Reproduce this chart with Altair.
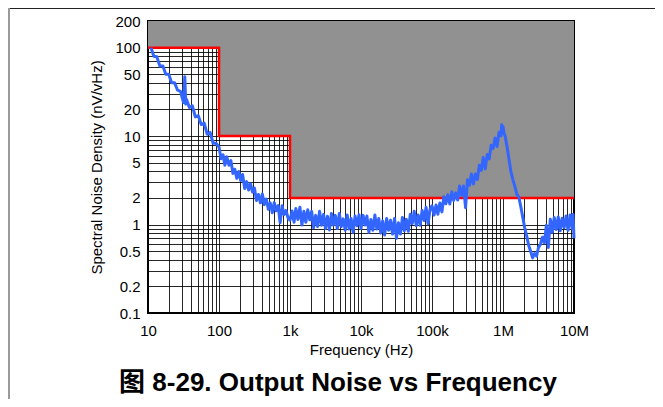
import altair as alt
import pandas as pd

# ---- measured noise trace (frequency in Hz, noise in nV/rtHz) ----
noise_freq_hz = [
    11, 12.1, 13.3, 14.7, 16.2, 17.8, 19.6, 21.5, 23.7, 26.1, 28.7, 31.6, 33, 34, 34.8, 38.3, 42.2, 46.4, 51.1, 56.2, 61.9, 68.1, 75, 82.5, 90.9,
    100, 107, 114, 121, 129, 138, 147, 157, 167, 178, 190, 202, 215, 230, 245, 261, 278, 297,
    316, 337, 359, 383, 408, 435, 464, 495, 527, 562, 600, 639, 681, 726, 774, 825, 880, 938,
    1000, 1070, 1140, 1210, 1290, 1380, 1470, 1570, 1670, 1780, 1900, 2020, 2150, 2300, 2450, 2610, 2780, 2970,
    3160, 3370, 3590, 3830, 4080, 4350, 4640, 4950, 5270, 5620, 6000, 6390, 6810, 7260, 7740, 8250, 8800, 9380,
    10000, 10700, 11400, 12100, 12900, 13800, 14700, 15700, 16700, 17800, 19000, 20200, 21500, 23000, 24500, 26100, 27800, 29700,
    31600, 33700, 35900, 38300, 40800, 43500, 46400, 49500, 52700, 56200, 60000, 63900, 68100, 72600, 77400, 82500, 88000, 93800,
    100000, 107000, 114000, 121000, 129000, 138000, 147000, 157000, 167000, 178000, 190000, 202000, 215000, 230000, 245000, 261000, 278000, 297000,
    316000, 337000, 359000, 383000, 408000, 435000, 464000, 495000, 527000, 562000, 600000, 639000, 681000, 726000, 774000, 825000, 880000, 938000, 960000, 980000,
    1000000, 1030000, 1070000, 1140000, 1210000, 1290000, 1380000, 1470000, 1570000, 1670000, 1780000, 1900000, 2020000, 2150000, 2300000, 2450000, 2610000, 2780000, 2970000,
    3160000, 3370000, 3590000, 3830000, 4080000, 4350000, 4640000, 4950000, 5270000, 5620000, 6000000, 6390000, 6810000, 7260000, 7740000, 8250000, 8800000, 9380000, 9700000, 10000000,
]
noise_nv = [
    100, 80, 79, 62, 62, 50, 50, 40, 40, 33, 32, 24, 47, 23, 26, 21, 22, 16.5, 17, 13.5, 14, 10.5, 11, 8.3, 8.3,
    7.5, 5.55, 6.15, 4.68, 5.82, 4.68, 5.29, 3.78, 4.22, 3.33, 3.98, 3.15, 3.68, 2.55, 3.06, 2.46, 2.89, 2.33,
    2.58, 1.87, 2.19, 1.76, 2.21, 1.68, 1.94, 1.49, 1.76, 1.36, 1.77, 1.43, 1.64, 1.05, 1.63, 1.3, 1.44, 1.19,
    1.12, 1.42, 1.06, 1.52, 1.14, 1.57, 0.99, 1.41, 1.06, 1.47, 1.13, 1.41, 0.92, 1.27, 0.95, 1.41, 0.98, 1.3,
    0.9, 1.24, 0.87, 1.33, 0.99, 1.27, 0.9, 1.33, 0.95, 1.16, 0.86, 1.28, 0.89, 1.17, 0.82, 1.25, 0.97, 1.29,
    0.9, 1.27, 0.99, 1.25, 0.82, 1.14, 0.86, 1.28, 0.89, 1.17, 0.8, 1.1, 0.76, 1.17, 0.86, 1.12, 0.78, 1.17,
    0.7, 1.05, 0.78, 1.2, 0.85, 1.15, 0.84, 1.31, 1.03, 1.41, 0.97, 1.28, 0.98, 1.44, 1.11, 1.57, 1.02, 1.49,
    1.63, 1.28, 1.66, 1.31, 1.75, 1.39, 2.06, 1.72, 2.17, 1.71, 2.34, 1.87, 2.27, 1.89, 2.73, 2.14, 2.73, 1.55,
    3.2, 2.79, 3.72, 2.87, 3.73, 3.23, 4.67, 4.1, 5.72, 4.26, 6.21, 5.53, 7.9, 7.23, 9.5, 7.63, 11.07, 10.1, 13.4, 12.0,
    12.8, 11.0, 10.0, 7.6, 5.6, 4.0, 3.2, 2.7, 2.2, 2.05, 1.6, 1.2, 0.92, 0.75, 0.58, 0.5, 0.42, 0.47, 0.44,
    0.55, 0.6, 0.72, 0.62, 0.98, 0.55, 1.15, 0.82, 1.2, 0.88, 1.22, 0.85, 1.18, 0.92, 1.25, 0.86, 1.28, 0.9, 1.3, 0.7,
]

# ---- specification limit (red step) ----
limit_freq_hz = [10, 100, 1000, 10000000]
limit_nv = [100, 10, 2, 2]

# ---- gray "out of spec" zones ----
zone_f_lo = [10, 100, 1000]
zone_f_hi = [100, 1000, 10000000]
zone_nv_lo = [100, 10, 2]
zone_nv_hi = [200, 200, 200]

# ---- axis grid / labels ----
x_grid = [10, 20, 30, 40, 50, 60, 70, 80, 90,
          100, 200, 300, 400, 500, 600, 700, 800, 900,
          1000, 2000, 3000, 4000, 5000, 6000, 7000, 8000, 9000,
          10000, 20000, 30000, 40000, 50000, 60000, 70000, 80000, 90000,
          100000, 200000, 300000, 400000, 500000, 600000, 700000, 800000, 900000,
          1000000, 2000000, 3000000, 4000000, 5000000, 6000000, 7000000, 8000000, 9000000,
          10000000]
y_grid = [0.1, 0.2, 0.3, 0.4, 0.5, 0.6, 0.7, 0.8, 0.9,
          1, 2, 3, 4, 5, 6, 7, 8, 9,
          10, 20, 30, 40, 50, 60, 70, 80, 90,
          100, 200]

caption = ["图 8-29. Output Noise vs Frequency"]

noise_df = pd.DataFrame({"f": noise_freq_hz, "v": noise_nv})
limit_df = pd.DataFrame({"f": limit_freq_hz, "v": limit_nv})
zone_df = pd.DataFrame({"f": zone_f_lo, "f2": zone_f_hi, "v": zone_nv_lo, "v2": zone_nv_hi})
caption_df = pd.DataFrame({"t": caption})

FONT = "Liberation Sans, Arial, Helvetica, sans-serif"

x_label_expr = ("datum.value == 10 ? '10' : datum.value == 100 ? '100' : datum.value == 1000 ? '1k' : "
                "datum.value == 10000 ? '10k' : datum.value == 100000 ? '100k' : "
                "datum.value == 1000000 ? '1M' : datum.value == 10000000 ? '10M' : ''")
y_label_expr = ("indexof([0.1, 0.2, 0.5, 1, 2, 5, 10, 20, 50, 100, 200], datum.value) >= 0 ? format(datum.value, '~g') : ''")

x_scale = alt.Scale(type="log", domain=[10, 10000000], nice=False)
y_scale = alt.Scale(type="log", domain=[0.1, 200], nice=False)

x_axis = alt.Axis(values=x_grid, labelExpr=x_label_expr, title="Frequency (Hz)",
                  grid=True, ticks=False, domain=False, labelFlush=False, labelOverlap=False,
                  labelPadding=10, titlePadding=4)
y_axis = alt.Axis(values=y_grid, labelExpr=y_label_expr, title="Spectral Noise Density (nV/vHz)",
                  grid=True, ticks=False, domain=False, labelFlush=False, labelOverlap=False,
                  labelPadding=8, titlePadding=10)

zones = alt.Chart(zone_df).mark_rect(color="#919191", opacity=1).encode(
    x=alt.X("f:Q", scale=x_scale, axis=x_axis),
    x2="f2:Q",
    y=alt.Y("v:Q", scale=y_scale, axis=y_axis),
    y2="v2:Q",
)

limit = alt.Chart(limit_df).mark_line(color="#ff0000", strokeWidth=2.5, interpolate="step-after").encode(
    x=alt.X("f:Q", scale=x_scale, axis=x_axis),
    y=alt.Y("v:Q", scale=y_scale, axis=y_axis),
)

noise = alt.Chart(noise_df).mark_line(color="#3366ff", strokeWidth=3, strokeJoin="round").encode(
    x=alt.X("f:Q", scale=x_scale, axis=x_axis),
    y=alt.Y("v:Q", scale=y_scale, axis=y_axis),
)

caption_mark = alt.Chart(caption_df).mark_text(
    font="Liberation Sans, Noto Sans CJK SC, sans-serif", fontSize=26, fontWeight="bold",
    color="black", align="center", baseline="alphabetic",
).encode(text="t:N", x=alt.value(190), y=alt.value(370))

frame_df = pd.DataFrame({"k": [0]})
frame_top = alt.Chart(frame_df).mark_rule(color="#222222", strokeWidth=1).encode(
    x=alt.value(-140), x2=alt.value(507), y=alt.value(-12.5))
frame_left = alt.Chart(frame_df).mark_rule(color="#9a9a9a", strokeWidth=2).encode(
    x=alt.value(-139), y=alt.value(-13), y2=alt.value(378))

chart = alt.layer(zones, limit, noise, caption_mark, frame_top, frame_left).properties(
    width=426,
    height=292,
    background="white",
    autosize=alt.AutoSizeParams(type="none"),
    padding={"left": 140, "top": 13, "right": 81, "bottom": 86},
).configure_view(
    stroke="black", strokeWidth=2
).configure_axis(
    gridColor="black", gridOpacity=0.85, gridWidth=1,
    labelFont=FONT, labelFontSize=15, labelColor="black",
    titleFont=FONT, titleFontSize=15, titleFontWeight="normal", titleColor="black",
)

chart.save("out.html", embed_options={"renderer": "svg", "actions": False})
